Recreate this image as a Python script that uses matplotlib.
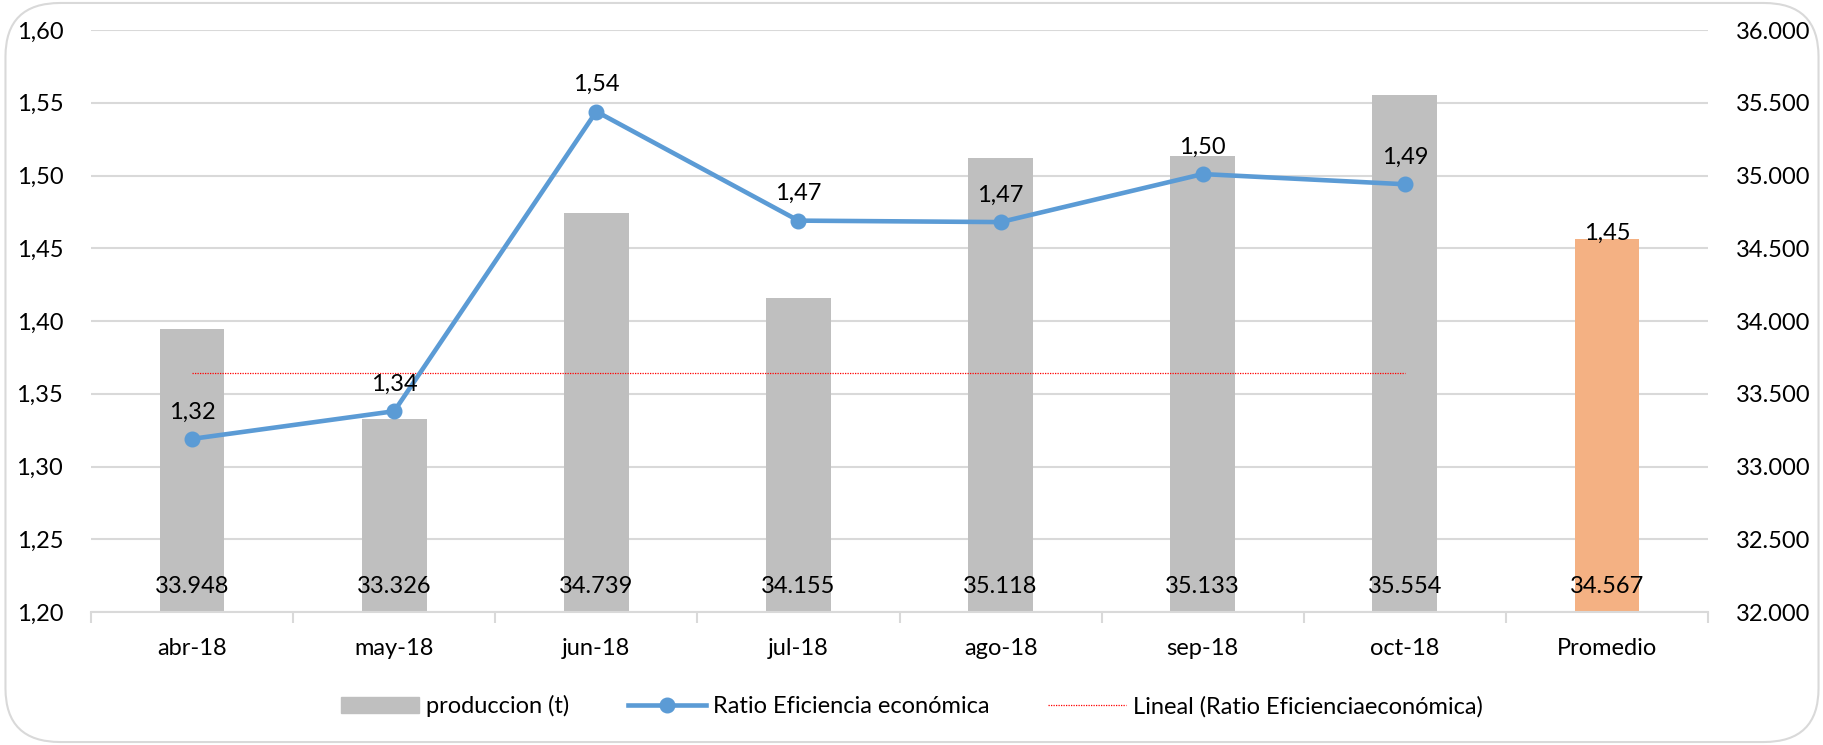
import matplotlib
matplotlib.use("Agg")
import matplotlib.pyplot as plt
from matplotlib.patches import FancyBboxPatch, Patch
from matplotlib.lines import Line2D
from matplotlib.ticker import FuncFormatter, FixedLocator

plt.rcParams['font.family'] = ['Lato', 'DejaVu Sans']

categorias = ['abr-18', 'may-18', 'jun-18', 'jul-18', 'ago-18', 'sep-18', 'oct-18', 'Promedio']
produccion = [33948, 33326, 34739, 34155, 35118, 35133, 35554, 34567]
ratio = [1.319, 1.338, 1.544, 1.469, 1.468, 1.501, 1.494]
ratio_promedio = 1.45
lineal = [1.364, 1.364, 1.364, 1.364, 1.364, 1.364, 1.364]

gris = '#BFBFBF'
naranja = '#F4B183'
azul = '#5B9BD5'
rejilla = '#D9D9D9'
fs = 17

fig = plt.figure(figsize=(18.24, 7.45), dpi=100)
fig.patches.append(FancyBboxPatch((0.003, 0.004), 0.994, 0.992, boxstyle='round,pad=0,rounding_size=0.03',
                                  transform=fig.transFigure, fc='none', ec=rejilla, lw=1.5,
                                  mutation_aspect=2.4, zorder=-1))

# barras (eje derecho)
ax = fig.add_axes([0.0499, 0.1785, 0.8865, 0.7812])
ax2 = ax.twinx()
x = list(range(len(categorias)))
colores = [gris] * 7 + [naranja]
ax.bar(x, produccion, width=0.32, color=colores, zorder=2)
ax.set_ylim(32000, 36000)
ax.set_xlim(-0.5, 7.5)
ax.set_yticks(range(32000, 36001, 500))
ax.yaxis.set_major_formatter(FuncFormatter(lambda v, p: f'{int(v):,}'.replace(',', '.')))
ax.yaxis.tick_right()
ax.grid(axis='y', color=rejilla, lw=1.5)
ax.set_axisbelow(True)
ax.tick_params(axis='y', length=0, pad=20, labelsize=fs)
ax.set_xticks(x)
ax.set_xticklabels(categorias)
ax.xaxis.set_minor_locator(FixedLocator([i - 0.5 for i in range(9)]))
ax.tick_params(axis='x', which='major', length=0, pad=19, labelsize=fs)
ax.tick_params(axis='x', which='minor', length=8, color=rejilla, width=1.5)
for s in ['top', 'left', 'right']:
    ax.spines[s].set_visible(False)
ax.spines['bottom'].set_color(rejilla)
ax.spines['bottom'].set_linewidth(1.5)

for xi, v in zip(x, produccion):
    ax.annotate(f'{v:,}'.replace(',', '.'), (xi, 32000), xytext=(0, 26), textcoords='offset pixels',
                ha='center', va='center', fontsize=fs)
ax.annotate(f'{ratio_promedio:.2f}'.replace('.', ','), (x[-1], produccion[-1]), xytext=(0, 5),
            textcoords='offset pixels', ha='center', va='center', fontsize=fs)

# linea (eje izquierdo)
ax2.plot(x[:7], ratio, color=azul, lw=3.3, marker='o', ms=10.5, zorder=3)
ax2.plot(x[:7], lineal, color='#FF0000', lw=0.9, ls=(0, (1, 1)), zorder=2)
ax2.set_ylim(1.20, 1.60)
ax2.set_yticks([1.20 + 0.05 * i for i in range(9)])
ax2.yaxis.set_major_formatter(FuncFormatter(lambda v, p: f'{v:.2f}'.replace('.', ',')))
ax2.yaxis.tick_left()
ax2.tick_params(axis='y', length=0, pad=20, labelsize=fs)
for s in ['top', 'left', 'right', 'bottom']:
    ax2.spines[s].set_visible(False)
for xi, v in zip(x[:7], ratio):
    ax2.annotate(f'{v:.2f}'.replace('.', ','), (xi, v), xytext=(0, 27), textcoords='offset pixels',
                 ha='center', va='center', fontsize=fs)

handles = [Patch(color=gris),
           Line2D([], [], color=azul, lw=3.3, marker='o', ms=10.5),
           Line2D([], [], color='#FF0000', lw=0.9, ls=(0, (1, 1)))]
labels = ['produccion (t)', 'Ratio Eficiencia económica', 'Lineal (Ratio Eficienciaeconómica)']
fig.legend(handles, labels, loc='center', bbox_to_anchor=(0.5, 0.052), ncol=3, frameon=False,
           fontsize=17, handlelength=3.3, columnspacing=2.5, handletextpad=0.3)

fig.savefig('out.png', dpi=100)
